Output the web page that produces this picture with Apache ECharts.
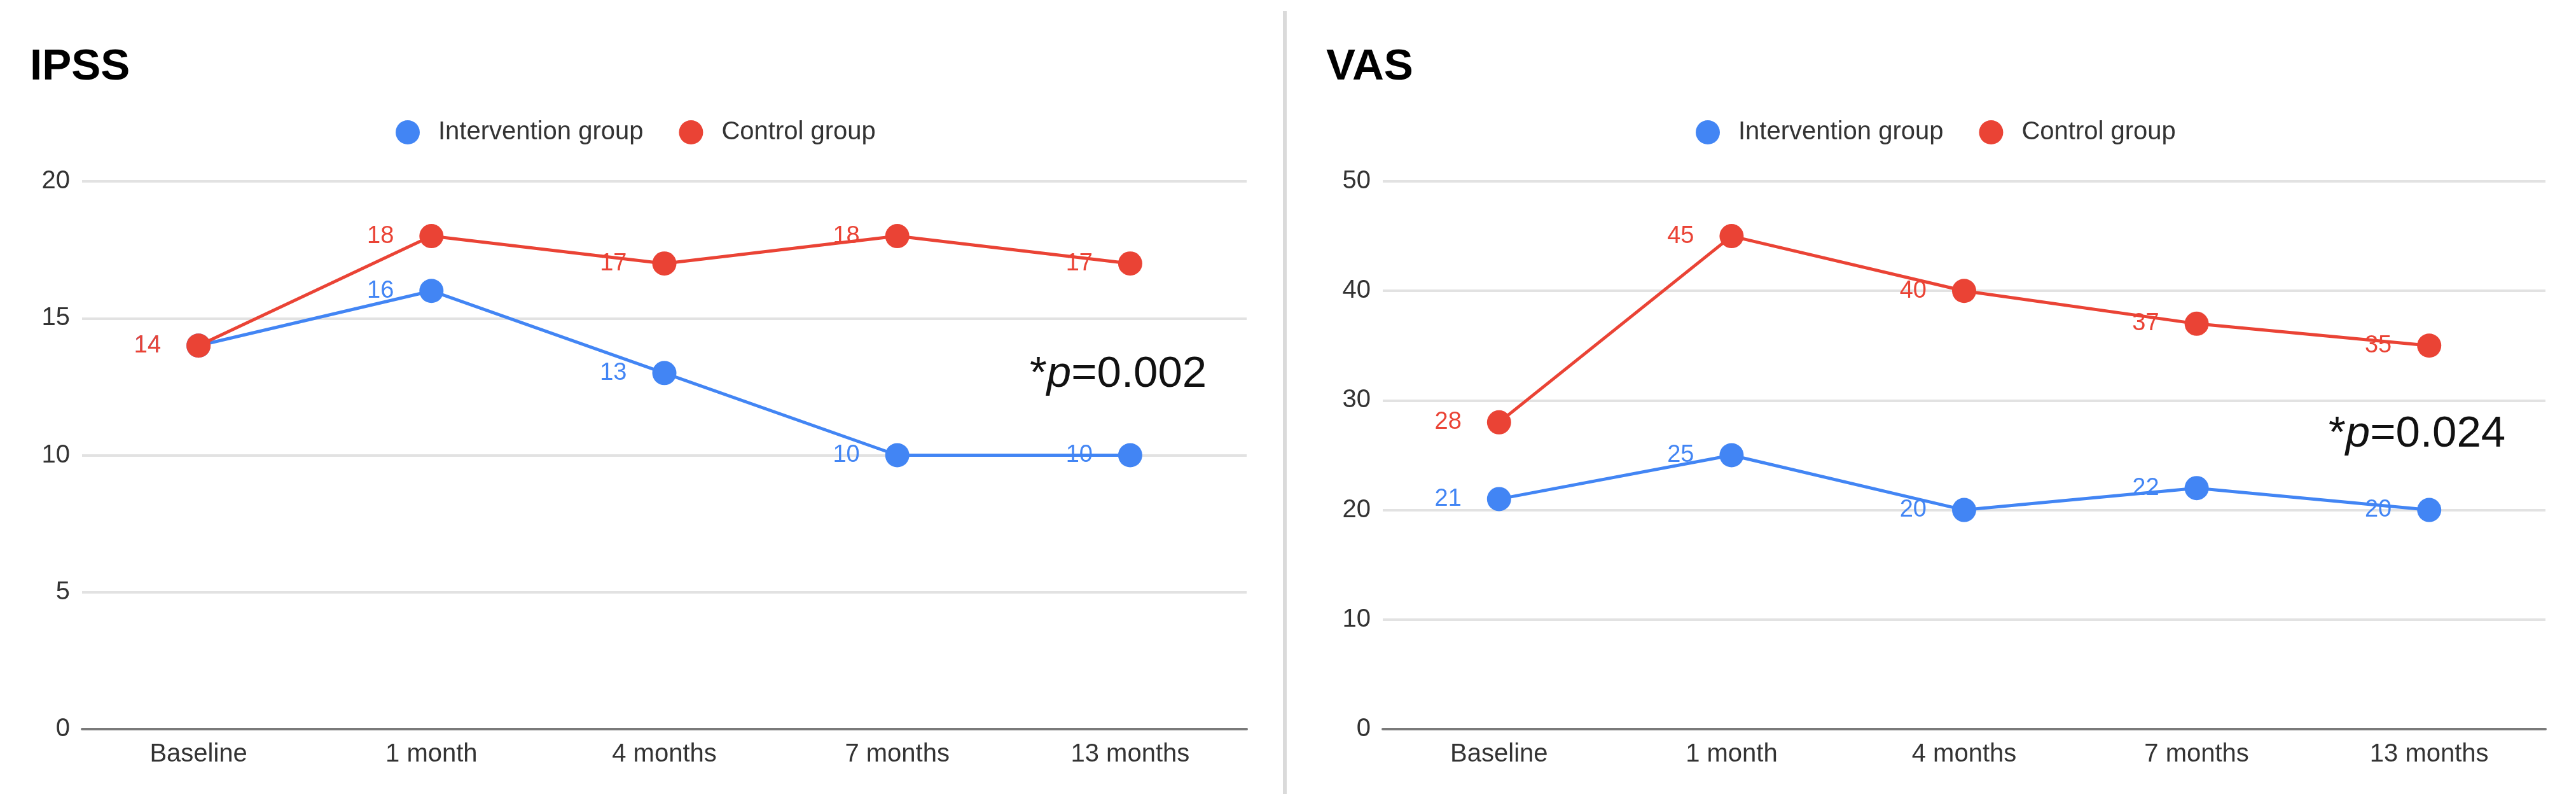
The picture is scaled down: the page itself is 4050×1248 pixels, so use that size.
<!DOCTYPE html>
<html>
<head>
<meta charset="utf-8">
<script src="https://cdn.jsdelivr.net/npm/echarts@6/dist/echarts.min.js"></script>
<style>html,body{margin:0;padding:0;background:#fff;}#c{width:4050px;height:1248px;}</style>
</head>
<body>
<div id="c"></div>
<script>
const categories = ['Baseline', '1 month', '4 months', '7 months', '13 months'];
const ipssIntervention = [14, 16, 13, 10, 10];
const ipssControl = [14, 18, 17, 18, 17];
const vasIntervention = [21, 25, 20, 22, 20];
const vasControl = [28, 45, 40, 37, 35];
const seriesNames = ['Intervention group', 'Control group'];
const panelTitles = ['IPSS', 'VAS'];
const pValues = ['0.002', '0.024'];

const BLUE = '#4285F4', RED = '#EA4335';
const FONT = "'Liberation Sans', Arial, sans-serif";

const chart = echarts.init(document.getElementById('c'));

function lineSeries(name, data, idx, color) {
  return {
    name: name, type: 'line', data: data,
    xAxisIndex: idx, yAxisIndex: idx,
    symbol: 'circle', symbolSize: 38,
    lineStyle: { width: 5, color: color },
    itemStyle: { color: color },
    label: { show: true, position: 'left', distance: 40, color: color, fontSize: 38, fontFamily: FONT },
    emphasis: { disabled: true },
    z: name === seriesNames[1] ? 3 : 2
  };
}

function legend(left) {
  return {
    data: seriesNames, left: left, top: 183, icon: 'circle',
    itemWidth: 38, itemHeight: 38, itemGap: 56,
    textStyle: { fontSize: 40, color: '#333', fontFamily: FONT, padding: [0, 0, 0, 24] }
  };
}

function pText(x, y, val) {
  return {
    type: 'text', left: x, top: y - 40,
    style: {
      text: '{a|*}{b|p}{a|=' + val + '}',
      rich: {
        a: { fontSize: 69, fontFamily: FONT, fill: '#111', color: '#111' },
        b: { fontSize: 69, fontFamily: FONT, fontStyle: 'italic', fill: '#111', color: '#111' }
      }
    }
  };
}

const axisCommonX = {
  type: 'category', data: categories, boundaryGap: true,
  axisTick: { show: false },
  axisLine: { show: true, lineStyle: { color: '#7a7a7a', width: 4 } },
  axisLabel: { fontSize: 40, color: '#333', margin: 20, fontFamily: FONT }
};
function yAxis(idx, max, interval) {
  return {
    type: 'value', gridIndex: idx, min: 0, max: max, interval: interval,
    axisLine: { show: false }, axisTick: { show: false },
    splitLine: { lineStyle: { color: '#e2e2e2', width: 4 } },
    axisLabel: { fontSize: 40, color: '#333', margin: 19, fontFamily: FONT }
  };
}

chart.setOption({
  animation: false,
  backgroundColor: '#fff',
  title: [
    { text: panelTitles[0], left: 42, top: 66, textStyle: { fontSize: 69, fontWeight: 'bold', color: '#000', fontFamily: FONT } },
    { text: panelTitles[1], left: 2080, top: 66, textStyle: { fontSize: 69, fontWeight: 'bold', color: '#000', fontFamily: FONT } }
  ],
  legend: [legend(617), legend(2661)],
  grid: [
    { left: 129, right: 2090, top: 285, bottom: 102 },
    { left: 2174, right: 48, top: 285, bottom: 102 }
  ],
  xAxis: [
    Object.assign({ gridIndex: 0 }, axisCommonX),
    Object.assign({ gridIndex: 1 }, axisCommonX)
  ],
  yAxis: [yAxis(0, 20, 5), yAxis(1, 50, 10)],
  series: [
    lineSeries(seriesNames[0], ipssIntervention, 0, BLUE),
    lineSeries(seriesNames[1], ipssControl, 0, RED),
    lineSeries(seriesNames[0], vasIntervention, 1, BLUE),
    lineSeries(seriesNames[1], vasControl, 1, RED)
  ],
  graphic: [
    { type: 'rect', shape: { x: 2017, y: 17, width: 6, height: 1231 }, style: { fill: '#dadada' } },
    pText(1619, 594, pValues[0]),
    pText(3661, 688, pValues[1])
  ]
});
</script>
</body>
</html>
